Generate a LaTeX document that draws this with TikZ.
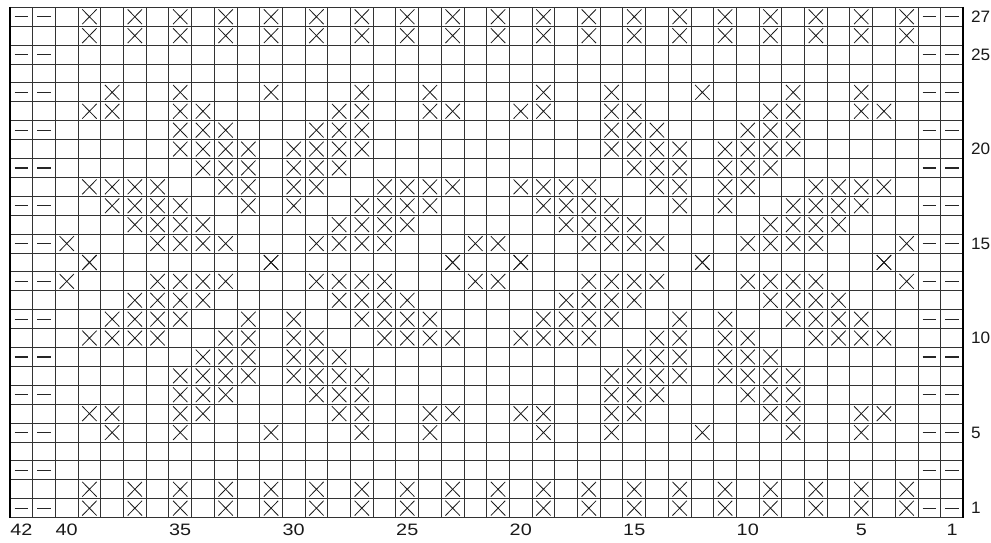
\documentclass[tikz,border=0pt]{standalone}
\usepackage{fontspec}
\setmainfont{Liberation Sans}
\begin{document}
\begin{tikzpicture}[x=1pt,y=-1pt,
  gridline/.style={line width=0.9pt, draw=black!80},
  border/.style={line width=1.9pt, draw=black},
  xmark/.style={line width=0.8pt, draw=black!90},
  dashmark/.style={line width=1.1pt, draw=black!85},
  lbl/.style={font=\fontsize{16.5}{17}\selectfont, text=black!90, inner sep=0pt},
  xcell/.pic={\draw[xmark] (-7.2,-7.4) -- (7.2,7.4) (-7.2,7.4) -- (7.2,-7.4);}]
\useasboundingbox (0,0) rectangle (991,542);
% grid
\foreach \i in {0,...,42}
  \draw[gridline] ({10+\i*22.7},7.3) -- ({10+\i*22.7},517.6);
\foreach \j in {0,...,27}
  \draw[gridline] (10,{7.3+\j*18.9}) -- (963.4,{7.3+\j*18.9});
\draw[border] (10,6.9) -- (10,518);
\draw[border] (963.4,6.9) -- (963.4,518);
% crosses (rows r and 28-r are identical)
\foreach \r/\cols in {
  1/{3,5,...,39},
  2/{3,5,...,39},
  5/{4,7,11,15,18,23,26,30,34,37},
  6/{3,4,7,8,14,15,18,19,22,23,26,27,33,34,37,38},
  7/{7,8,9,13,14,15,26,27,28,32,33,34},
  8/{7,8,9,10,12,13,14,15,26,27,28,29,31,32,33,34},
  9/{8,9,10,12,13,14,27,28,29,31,32,33},
  10/{3,4,5,6,9,10,12,13,16,17,18,19,22,23,24,25,28,29,31,32,35,36,37,38},
  11/{4,5,6,7,10,12,15,16,17,18,23,24,25,26,29,31,34,35,36,37},
  12/{5,6,7,8,14,15,16,17,24,25,26,27,33,34,35,36},
  13/{2,6,7,8,9,13,14,15,16,20,21,25,26,27,28,32,33,34,35,39},
  14/{3,11,19,22,30,38}}{
  \foreach \c in \cols {
    \pic at ({10+(\c+0.5)*22.7},{7.3+(27-\r+0.5)*18.9}) {xcell};
    \pic at ({10+(\c+0.5)*22.7},{7.3+(\r-1+0.5)*18.9}) {xcell};
  }
}
% dashes on odd rows
\foreach \t in {0,2,...,26}
  \foreach \c in {0,1,40,41}
    \draw[dashmark] ({10+(\c+0.5)*22.7-6.8},{7.3+(\t+0.5)*18.9}) -- ++(13.6,0);
% row numbers
\foreach \r in {27,25,20,15,10,5,1}
  \node[lbl, anchor=west] (row\r) at (970.8,{7.3+(27-\r+0.5)*18.9}) {\scalebox{1.04}[1]{\r}};
% column numbers
\foreach \c/\n in {0/42,2/40,7/35,12/30,17/25,22/20,27/15,32/10,37/5,41/1}
  \node[lbl] (col\n) at ({10+(\c+0.5)*22.7},529.6) {\scalebox{1.2}[1]{\n}};
\end{tikzpicture}
\end{document}
